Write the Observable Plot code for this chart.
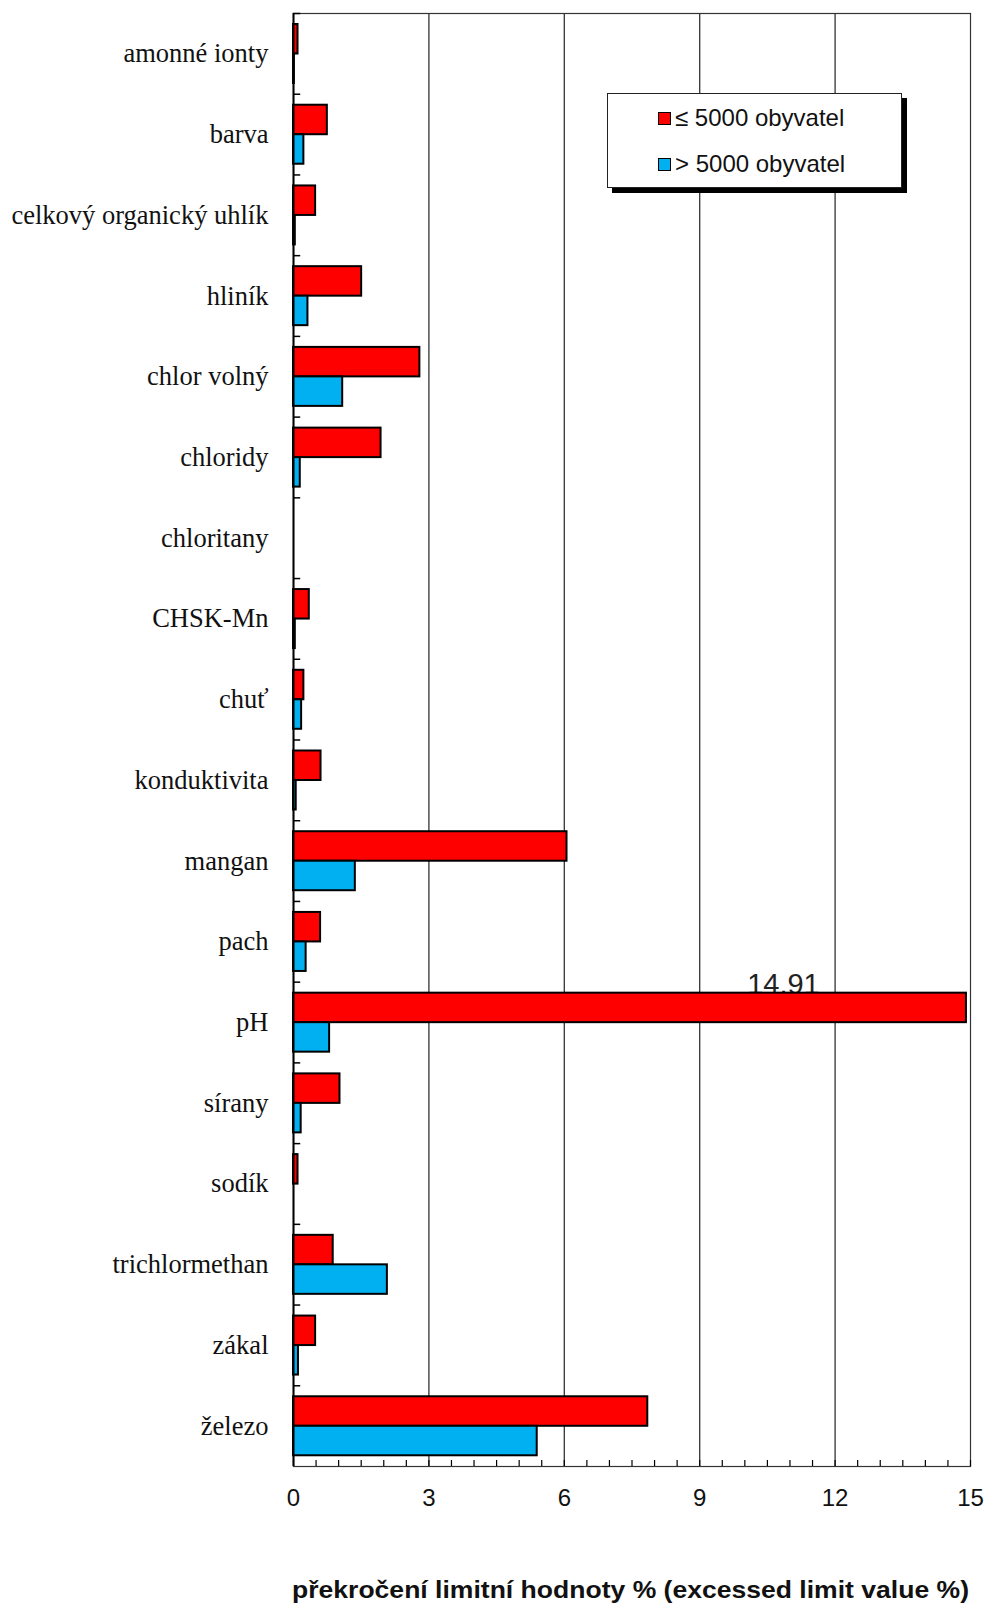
<!DOCTYPE html>
<html>
<head>
<meta charset="utf-8">
<script src="https://cdn.jsdelivr.net/npm/d3@7"></script>
<script src="https://cdn.jsdelivr.net/npm/@observablehq/plot@0.6"></script>
<style>
  body { margin: 0; background: #fff; }
  #wrap { position: relative; width: 987px; height: 1606px; }
  #legend {
    position: absolute; left: 607px; top: 93px; width: 293px; height: 93px;
    background: #fff; border: 1px solid #222; box-shadow: 5px 5px 0 #000;
    font-family: "Liberation Sans", Arial, sans-serif; font-size: 24px; color: #111;
  }
  #legend .row { position: absolute; left: 50px; display: flex; align-items: center; white-space: nowrap; }
  #legend .sw { width: 11px; height: 11px; border: 1.5px solid #000; margin-right: 4px; }
</style>
</head>
<body>
<div id="wrap"></div>
<script>
const categories = ["amonné ionty", "barva", "celkový organický uhlík", "hliník", "chlor volný", "chloridy", "chloritany", "CHSK-Mn", "chuť", "konduktivita", "mangan", "pach", "pH", "sírany", "sodík", "trichlormethan", "zákal", "železo"];
const small = [0.1, 0.75, 0.49, 1.51, 2.80, 1.94, 0, 0.35, 0.23, 0.61, 6.06, 0.60, 14.91, 1.03, 0.1, 0.88, 0.49, 7.85];
const large = [0.02, 0.23, 0.04, 0.32, 1.09, 0.15, 0, 0.04, 0.18, 0.06, 1.37, 0.28, 0.80, 0.17, 0, 2.08, 0.11, 5.40];
const seriesNames = ["≤ 5000 obyvatel", "> 5000 obyvatel"];
const xTicks = [0, 3, 6, 9, 12, 15];
const gridTicks = [3, 6, 9, 12];
const labelled = ["pH"];
const axisTitle = "překročení limitní hodnoty % (excessed limit value %)";

const colors = ["#FF0000", "#00B0F0"];
const W = 987, H = 1562, mt = 13, mb = 96, ml = 293, mr = 17;
const bw = (H - mt - mb) / categories.length;
const minorTicks = d3.range(0, 15.001, 0.5);
const last = categories[categories.length - 1];

const chart = Plot.plot({
  width: W, height: H,
  marginTop: mt, marginBottom: mb, marginLeft: ml, marginRight: mr,
  style: {fontFamily: "Liberation Sans, Arial, sans-serif", fontSize: "24px", color: "#111", background: "#fff"},
  x: {domain: [0, 15], axis: null},
  y: {domain: categories, padding: 0, round: false, axis: null},
  marks: [
    Plot.ruleX(gridTicks, {stroke: "#333", strokeWidth: 1.3}),
    Plot.text(categories.filter(c => labelled.includes(c)), {
      y: d => d, x: d => small[categories.indexOf(d)],
      text: d => small[categories.indexOf(d)].toFixed(2).replace(".", ","),
      dx: -183, dy: -bw / 2 + 11.5, fontSize: 29, fill: "#222",
      textAnchor: "middle", lineAnchor: "bottom"
    }),
    Plot.barX(categories, {
      y: d => d, x: (d, i) => small[i],
      fill: colors[0], stroke: "#000", strokeWidth: 2,
      insetTop: 11, insetBottom: bw - 40.5
    }),
    Plot.barX(categories, {
      y: d => d, x: (d, i) => large[i],
      fill: colors[1], stroke: "#000", strokeWidth: 2,
      insetTop: 40.5, insetBottom: bw - 70
    }),
    Plot.frame({stroke: "#333", strokeWidth: 1.2}),
    Plot.ruleX([0], {stroke: "#000", strokeWidth: 2}),
    Plot.ruleY(categories, {y: d => d, x1: 0, x2: 0.16, dy: -bw / 2, stroke: "#000", strokeWidth: 1.5}),
    Plot.tickX(minorTicks, {x: d => d, y: () => last, insetTop: bw - 6, stroke: "#000", strokeWidth: 1.2}),
    Plot.axisX({ticks: xTicks, tickSize: 0, tickPadding: 22, fontSize: 24, fill: "#111"}),
    Plot.axisY({tickSize: 0, tickPadding: 25, fontSize: 26.5, fontFamily: "Liberation Serif, Times New Roman, serif", fill: "#111"})
  ]
});

const wrap = document.getElementById("wrap");
wrap.appendChild(chart);

// legend
const legend = document.createElement("div");
legend.id = "legend";
seriesNames.forEach((name, i) => {
  const row = document.createElement("div");
  row.className = "row";
  row.style.top = (i === 0 ? 10 : 56) + "px";
  const sw = document.createElement("div");
  sw.className = "sw";
  sw.style.background = colors[i];
  const t = document.createElement("span");
  t.textContent = name;
  row.appendChild(sw);
  row.appendChild(t);
  legend.appendChild(row);
});
wrap.appendChild(legend);

// axis title below the chart
const ns = "http://www.w3.org/2000/svg";
const cap = document.createElementNS(ns, "svg");
cap.setAttribute("width", W);
cap.setAttribute("height", 1606 - H);
cap.style.display = "block";
const ct = document.createElementNS(ns, "text");
ct.setAttribute("x", 292);
ct.setAttribute("y", 36);
ct.setAttribute("textLength", 677);
ct.setAttribute("lengthAdjust", "spacingAndGlyphs");
ct.setAttribute("font-family", "Liberation Sans, Arial, sans-serif");
ct.setAttribute("font-weight", "bold");
ct.setAttribute("font-size", "24");
ct.setAttribute("fill", "#111");
ct.textContent = axisTitle;
cap.appendChild(ct);
wrap.appendChild(cap);
</script>
</body>
</html>
